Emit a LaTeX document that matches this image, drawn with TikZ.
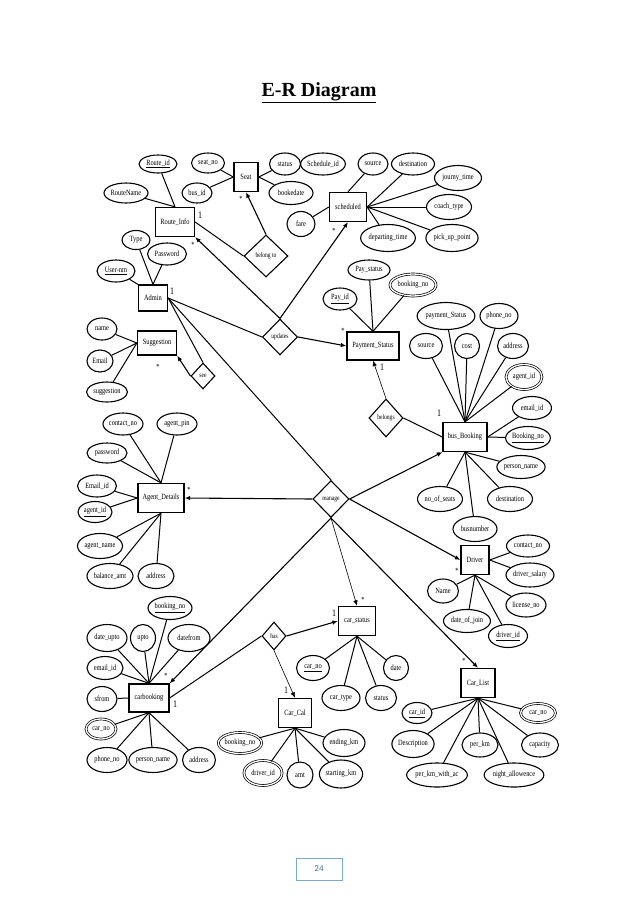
\documentclass[tikz,border=0pt]{standalone}
\usepackage{fontspec}
\setmainfont{Liberation Serif}
\newfontfamily\erfont[FakeStretch=0.8]{Liberation Serif}
\newfontfamily\pgfont{Carlito}
\usetikzlibrary{shapes.geometric,arrows.meta}
\definecolor{pgblue}{RGB}{120,170,215}
\definecolor{pgtext}{RGB}{70,110,160}
\begin{document}
\begin{tikzpicture}[x=1pt,y=-1pt,
  every node/.style={font=\erfont\fontsize{8}{9}\selectfont},
  ent/.style n args={2}{draw,rectangle,line width=1.3pt,inner sep=0pt,minimum width=#1pt,minimum height=#2pt},
  rel/.style n args={2}{draw,diamond,line width=1.1pt,inner sep=0pt,minimum width=#1pt,minimum height=#2pt,font=\erfont\fontsize{7}{8}\selectfont},
  attr/.style n args={2}{draw,ellipse,line width=1.1pt,inner sep=0pt,minimum width=#1pt,minimum height=#2pt},
  dattr/.style n args={2}{attr={#1}{#2},double,double distance=1.3pt,line width=0.7pt},
  ln/.style={line width=1pt},
  arr/.style={line width=1.1pt,-{Latex[length=5.5pt,width=4.5pt]}},
  tarr/.style={line width=0.6pt,-{Latex[length=5.5pt,width=4.5pt]}},
  card/.style={font=\erfont\fontsize{10}{10}\selectfont,inner sep=0pt},
  star/.style={font=\erfont\fontsize{8}{8}\selectfont,inner sep=0pt}]
\useasboundingbox[fill=white] (0,0) rectangle (638,903);

% title
\node[font=\bfseries\fontsize{20}{22}\selectfont] (title) at (319,93) {\underline{E-R Diagram}};

% entities
\node[ent={24}{29}] (seat) at (246,177) {Seat};
\node[ent={39}{29}] (routeinfo) at (175,222) {Route\_Info};
\node[ent={29}{26}] (admin) at (153,298) {Admin};
\node[ent={37}{29}] (sched) at (348,207) {scheduled};
\node[ent={52}{28}] (pay) at (373,346) {Payment\_Status};
\node[ent={39}{24}] (sugg) at (157,343) {Suggestion};
\node[ent={44}{29}] (bus) at (465,437) {bus\_Booking};
\node[ent={46}{29}] (agent) at (161,498) {Agent\_Details};
\node[ent={28}{29}] (driver) at (475,560) {Driver};
\node[ent={37}{29}] (carstatus) at (357,621) {car\_status};
\node[ent={40}{28}] (carbook) at (149,698) {carbooking};
\node[ent={33}{29}] (carcal) at (295,713) {Car\_Cal};
\node[ent={34}{29}] (carlist) at (478,683) {Car\_List};

% relationships
\node[rel={44}{42}] (belongto) at (266,256) {belong to};
\node[rel={35}{36}] (updates) at (280,337) {updates};
\node[rel={24}{26}] (see) at (203,376) {see};
\node[rel={34}{38}] (belongs) at (386,418) {belongs};
\node[rel={36}{37}] (manage) at (331,499) {manage};
\node[rel={24}{28}] (has) at (274,636) {has};

% attributes: Route_Info
\node[attr={38}{18}] (a_routeid) at (158,164) {\underline{Route\_id}};
\node[attr={44}{20}] (a_routename) at (126,193) {RouteName};
% Seat
\node[attr={33}{20}] (a_seatno) at (208,163) {seat\_no};
\node[attr={30}{20}] (a_busid) at (197,193) {bus\_id};
\node[attr={31}{22}] (a_status) at (285,164) {status};
\node[attr={44}{23}] (a_bookedate) at (291,193) {bookedate};
% scheduled
\node[attr={37}{22}] (a_schedid) at (323,164) {Schedule\_id};
\node[attr={30}{22}] (a_source) at (373,164) {source};
\node[attr={43}{22}] (a_dest) at (413,164) {destination};
\node[attr={47}{25}] (a_journey) at (458,178) {journy\_time};
\node[attr={45}{25}] (a_coach) at (449,207) {coach\_type};
\node[attr={51}{27}] (a_pickup) at (452,238) {pick\_up\_point};
\node[attr={47}{27}] (a_depart) at (388,238) {departing\_time};
\node[attr={28}{25}] (a_fare) at (301,224) {fare};
% Admin
\node[attr={28}{19}] (a_type) at (136,240) {Type};
\node[attr={39}{22}] (a_password) at (167,254) {Password};
\node[attr={38}{22}] (a_usernm) at (116,271) {\underline{User-nm}};
% Payment_Status
\node[attr={42}{20}] (a_paystatus) at (369,270) {Pay\_status};
\node[attr={34}{22}] (a_payid) at (340,299) {\underline{Pay\_id}};
\node[dattr={46}{22}] (a_pbookingno) at (413,285) {booking\_no};
% Suggestion
\node[attr={30}{22}] (a_name) at (102,329) {name};
\node[attr={26}{22}] (a_email) at (100,361) {Email};
\node[attr={41}{20}] (a_suggestion) at (107,392) {suggestion};
% Agent_Details
\node[attr={40}{22}] (a_contactno) at (123,424) {contact\_no};
\node[attr={40}{22}] (a_agentpin) at (177,424) {agent\_pin};
\node[attr={40}{20}] (a_apassword) at (107,453) {password};
\node[attr={39}{22}] (a_aemailid) at (97,486) {Email\_id};
\node[attr={34}{21}] (a_agentid) at (95,512) {\underline{agent\_id}};
\node[attr={45}{25}] (a_agentname) at (100,546) {agent\_name};
\node[attr={46}{25}] (a_balance) at (110,576) {balance\_amt};
\node[attr={36}{25}] (a_aaddress) at (156,576) {address};
% bus_Booking
\node[attr={55}{27}] (a_paymentstatus) at (446,316) {payment\_Status};
\node[attr={38}{25}] (a_phoneno) at (499,316) {phone\_no};
\node[attr={33}{25}] (a_bsource) at (426,346) {source};
\node[attr={25}{25}] (a_cost) at (467,346) {cost};
\node[attr={31}{25}] (a_baddress) at (513,346) {address};
\node[dattr={36}{25}] (a_bagentid) at (524,377) {agent\_id};
\node[attr={39}{23}] (a_bemailid) at (532,408) {email\_id};
\node[attr={43}{23}] (a_bbookingno) at (528,438) {\underline{Booking\_no}};
\node[attr={48}{23}] (a_personname) at (521,467) {person\_name};
\node[attr={45}{25}] (a_noseats) at (440,499) {no\_of\_seats};
\node[attr={45}{25}] (a_bdest) at (510,499) {destination};
\node[attr={44}{25}] (a_busnumber) at (475,529) {busnumber};
% Driver
\node[attr={43}{22}] (a_dcontact) at (528,546) {contact\_no};
\node[attr={48}{24}] (a_dsalary) at (530,575) {driver\_salary};
\node[attr={31}{24}] (a_dname) at (443,591) {Name};
\node[attr={40}{24}] (a_license) at (526,605) {license\_no};
\node[attr={47}{23}] (a_doj) at (467,621) {date\_of\_join};
\node[attr={39}{23}] (a_driverid) at (508,636) {\underline{driver\_id}};
% carbooking
\node[attr={44}{23}] (a_cbbookingno) at (170,608) {\underline{booking\_no}};
\node[attr={40}{27}] (a_dateupto) at (107,638) {date\_upto};
\node[attr={25}{27}] (a_upto) at (143,638) {upto};
\node[attr={42}{27}] (a_datefrom) at (189,638) {datefrom};
\node[attr={36}{23}] (a_cbemail) at (105,668) {email\_id};
\node[attr={30}{25}] (a_sfrom) at (102,699) {sfrom};
\node[dattr={30}{20}] (a_cbcarno) at (101,729) {car\_no};
\node[attr={40}{25}] (a_cbphone) at (107,760) {phone\_no};
\node[attr={47}{25}] (a_cbperson) at (153,760) {person\_name};
\node[attr={33}{25}] (a_cbaddress) at (199,760) {address};
% car_status
\node[attr={33}{25}] (a_cscarno) at (313,668) {\underline{car\_no}};
\node[attr={25}{25}] (a_csdate) at (396,668) {date};
\node[attr={38}{25}] (a_cscartype) at (341,698) {car\_type};
\node[attr={31}{25}] (a_csstatus) at (381,698) {status};
% Car_Cal
\node[dattr={43}{21}] (a_ccbooking) at (240,743) {booking\_no};
\node[dattr={38}{25}] (a_ccdriver) at (263,773) {driver\_id};
\node[attr={26}{26}] (a_ccamt) at (300,775) {amt};
\node[attr={42}{27}] (a_ccending) at (344,743) {ending\_km};
\node[attr={40}{28}] (a_ccstarting) at (341,774) {starting\_km};
% Car_List
\node[attr={30}{21}] (a_clcarid) at (417,713) {\underline{car\_id}};
\node[dattr={35}{19}] (a_clcarno) at (538,713) {car\_no};
\node[attr={42}{27}] (a_cldesc) at (413,744) {Description};
\node[attr={36}{24}] (a_clperkm) at (480,745) {per\_km};
\node[attr={37}{24}] (a_clcapacity) at (540,745) {capacity};
\node[attr={59}{24}] (a_clperkmac) at (437,775) {per\_km\_with\_ac};
\node[attr={52}{24}] (a_clnight) at (514,775) {night\_allowence};

% attribute connectors
\draw[ln] (a_routeid) -- (routeinfo.north) (a_routename) -- (routeinfo.north);
\draw[ln] (a_seatno) -- (seat.west) (a_busid) -- (seat.west)
          (a_status) -- (seat.east) (a_bookedate) -- (seat.east);
\draw[ln] (a_source) -- (sched.north) (a_fare) -- (sched.west);
\foreach \a in {a_dest,a_journey,a_coach,a_pickup,a_depart} \draw[ln] (\a) -- (sched.east);
\draw[ln] (a_type) -- (admin.north) (a_password) -- (admin.north) (a_usernm) -- (admin.north west);
\foreach \a in {a_paystatus,a_payid,a_pbookingno} \draw[ln] (\a) -- (pay.north);
\foreach \a in {a_name,a_email,a_suggestion} \draw[ln] (\a) -- (sugg.west);
\foreach \a in {a_contactno,a_agentpin,a_apassword} \draw[ln] (\a) -- (agent.north);
\foreach \a in {a_aemailid,a_agentid} \draw[ln] (\a) -- (agent.west);
\foreach \a in {a_agentname,a_balance,a_aaddress} \draw[ln] (\a) -- (agent.south);
\foreach \a in {a_paymentstatus,a_phoneno,a_bsource,a_cost,a_baddress,a_bagentid} \draw[ln] (\a) -- (bus.north);
\foreach \a in {a_bemailid,a_bbookingno} \draw[ln] (\a) -- (bus.east);
\foreach \a in {a_personname,a_noseats,a_bdest,a_busnumber} \draw[ln] (\a) -- (bus.south);
\foreach \a in {a_dcontact,a_dsalary} \draw[ln] (\a) -- (driver.east);
\foreach \a in {a_dname,a_license,a_doj,a_driverid} \draw[ln] (\a) -- (driver.south);
\foreach \a in {a_cscarno,a_csdate,a_cscartype,a_csstatus} \draw[ln] (\a) -- (carstatus.south);
\foreach \a in {a_cbbookingno,a_dateupto,a_upto,a_datefrom,a_cbemail} \draw[ln] (\a) -- (carbook.north);
\draw[ln] (a_sfrom) -- (carbook.west);
\foreach \a in {a_cbcarno,a_cbphone,a_cbperson,a_cbaddress} \draw[ln] (\a) -- (carbook.south);
\foreach \a in {a_ccbooking,a_ccdriver,a_ccamt,a_ccending,a_ccstarting} \draw[ln] (\a) -- (carcal.south);
\foreach \a in {a_clcarid,a_clcarno,a_cldesc,a_clperkm,a_clcapacity,a_clperkmac,a_clnight} \draw[ln] (\a) -- (carlist.south);

% relationship connectors
\draw[ln] (routeinfo.east) -- (belongto.west);
\draw[arr] (belongto.north) -- (seat.south);
\draw[ln] (admin.east) -- (updates.west);
\draw[arr] (updates.north) -- (routeinfo.south east);
\draw[arr] (updates.north) -- (sched.south);
\draw[arr] (updates.east) -- (pay.west);
\draw[ln] (admin.east) -- (see.north);
\draw[arr] (see.west) -- (sugg.south east);
\draw[ln] (admin.east) -- (manage.north);
\draw[arr] (manage.west) -- (agent.east);
\draw[arr] (manage.east) -- (bus.south west);
\draw[arr] (manage.east) -- (driver.west);
\draw[tarr] (manage.south) -- (carstatus.north);
\draw[arr] (manage.south) -- (carlist.north);
\draw[arr] (manage.south) -- (carbook.north east);
\draw[ln] (carbook.east) -- (has.west);
\draw[arr] (has.east) -- (carstatus.west);
\draw[tarr] (has.south) -- (carcal.north);
\draw[tarr] (belongs.north) -- (pay.south);
\draw[ln] (belongs.east) -- (bus.west);

% cardinalities
\node[card] (c1) at (200,215) {1};
\node[star] (s1) at (241,199) {*};
\node[card] (c2) at (172,291) {1};
\node[star] (s2) at (193,245) {*};
\node[star] (s3) at (334,231) {*};
\node[star] (s4) at (343,331) {*};
\node[star] (s5) at (158,367) {*};
\node[star] (s6) at (189,490) {*};
\node[star] (s7) at (439,455) {*};
\node[star] (s8) at (457,571) {*};
\node[star] (s9) at (363,600) {*};
\node[star] (s10) at (464,661) {*};
\node[star] (s11) at (166,676) {*};
\node[card] (c3) at (175,704) {1};
\node[card] (c4) at (334,613) {1};
\node[card] (c5) at (286,690) {1};
\node[card] (c6) at (382,367) {1};
\node[card] (c7) at (439,413) {1};

% page number
\node[draw=pgblue,line width=0.8pt,minimum width=46pt,minimum height=22pt,inner sep=0pt,text=pgtext,font=\pgfont\fontsize{9}{10}\selectfont] (pg) at (319,869) {24};
\end{tikzpicture}
\end{document}
